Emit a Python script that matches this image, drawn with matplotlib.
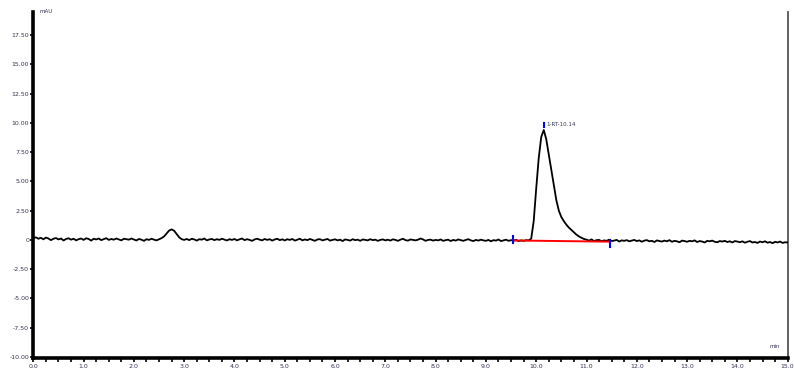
import numpy as np
import matplotlib.pyplot as plt
from matplotlib.ticker import MultipleLocator

# chromatogram signal (mAU), every 0.05 min, 0.00 .. 15.00
sig_rows = [
    [0.15, 0.22, 0.10, 0.18, 0.05, 0.20, 0.12, -0.02, 0.10, 0.16, 0.04, 0.12, -0.05, 0.08, 0.14, 0.02, 0.10, -0.04, 0.06, 0.12],
    [0.00, 0.14, 0.08, -0.06, 0.10, 0.04, 0.12, -0.02, 0.06, 0.15, 0.00, 0.08, 0.02, 0.12, 0.04, -0.04, 0.10, 0.06, 0.02, 0.12],
    [0.04, -0.05, 0.08, 0.02, -0.08, 0.06, 0.00, 0.10, 0.02, -0.04, 0.06, 0.15, 0.30, 0.55, 0.80, 0.90, 0.78, 0.50, 0.22, 0.06],
    [0.00, 0.08, -0.02, 0.10, 0.04, -0.06, 0.06, 0.02, 0.12, -0.04, 0.04, 0.08, -0.02, 0.06, 0.00, 0.10, 0.02, -0.05, 0.06, 0.00],
    [0.08, -0.04, 0.05, 0.12, -0.02, 0.06, 0.00, -0.08, 0.04, 0.10, 0.02, -0.04, 0.08, 0.00, 0.06, -0.06, 0.04, 0.10, -0.02, 0.05],
    [-0.05, 0.06, 0.00, 0.08, -0.06, 0.02, 0.10, -0.04, 0.04, -0.02, 0.08, 0.00, -0.08, 0.04, 0.06, -0.04, 0.02, 0.08, -0.06, 0.00],
    [0.05, -0.04, 0.02, -0.10, 0.04, 0.00, -0.06, 0.06, -0.02, 0.02, -0.08, 0.04, 0.00, -0.04, 0.06, -0.02, 0.02, -0.08, 0.00, 0.04],
    [-0.04, 0.02, -0.06, 0.05, 0.00, -0.08, 0.02, 0.10, -0.02, -0.06, 0.04, 0.00, -0.04, 0.02, 0.12, 0.04, -0.08, 0.00, 0.02, -0.06],
    [0.00, -0.04, 0.04, -0.08, -0.02, 0.02, -0.10, 0.00, -0.06, 0.04, -0.02, -0.08, 0.00, 0.06, -0.04, -0.10, 0.00, -0.06, 0.02, -0.04],
    [-0.08, 0.00, -0.12, -0.02, -0.06, 0.04, -0.10, -0.04, 0.02, -0.08, -0.02, -0.06, 0.00, -0.10, -0.04, -0.08, -0.02, -0.04, 0.10, 1.60],
    [4.40, 7.00, 8.80, 9.40, 8.60, 7.30, 6.00, 4.70, 3.40, 2.50, 1.95, 1.60, 1.30, 1.05, 0.85, 0.65, 0.45, 0.30, 0.18, 0.08],
    [0.02, -0.06, 0.04, -0.10, -0.02, 0.00, -0.12, -0.04, -0.08, 0.02, -0.10, -0.06, 0.00, -0.14, -0.04, -0.08, -0.02, -0.12, -0.06, 0.00],
    [-0.10, -0.04, -0.16, -0.06, -0.02, -0.12, -0.08, -0.18, -0.04, -0.10, -0.14, -0.06, -0.12, -0.02, -0.16, -0.08, -0.12, -0.20, -0.06, -0.10],
    [-0.16, -0.08, -0.12, -0.04, -0.18, -0.10, -0.14, -0.22, -0.08, -0.12, -0.06, -0.16, -0.20, -0.10, -0.14, -0.08, -0.18, -0.12, -0.22, -0.10],
    [-0.14, -0.20, -0.12, -0.24, -0.16, -0.10, -0.22, -0.18, -0.26, -0.14, -0.20, -0.12, -0.24, -0.18, -0.28, -0.16, -0.22, -0.14, -0.26, -0.20],
    [-0.22],
]
signal = np.concatenate([np.array(r) for r in sig_rows])
time = np.linspace(0, 15, len(signal))

# integration of peak 1
peak_label = "1-RT-10.14"
peak_rt = 10.15
peak_top = 9.40
base_start = [9.54, -0.05]
base_end = [11.47, -0.15]

x_ticks = np.arange(0, 16, 1)
y_ticks = [-10, -7.5, -5, -2.5, 0, 2.5, 5, 7.5, 10, 12.5, 15, 17.5]

fig = plt.figure(figsize=(7.94, 3.71), dpi=100)
ax = fig.add_axes([0.042, 0.035, 0.950, 0.933])

ax.plot(time, signal, color='black', lw=1.3, zorder=3)
ax.plot([base_start[0], base_end[0]], [base_start[1], base_end[1]], color='red', lw=1.4, zorder=4)

# blue integration marks
ax.plot([base_start[0], base_start[0]], [base_start[1] - 0.25, base_start[1] + 0.35], color='blue', lw=1.5, zorder=5)
ax.plot([base_end[0], base_end[0]], [base_end[1] - 0.45, base_end[1] + 0.15], color='blue', lw=1.5, zorder=5)
ax.plot([peak_rt, peak_rt], [peak_top + 0.25, peak_top + 0.6], color='blue', lw=1.5, zorder=5)
ax.text(peak_rt + 0.06, peak_top + 0.45, peak_label, fontsize=4, color='#333355', va='center')

ax.set_xlim(0, 15)
ax.set_ylim(-10.1, 19.5)
ax.set_xticks(x_ticks)
ax.set_xticklabels(["%.1f" % v for v in x_ticks])
ax.xaxis.set_minor_locator(MultipleLocator(0.25))
ax.set_yticks(y_ticks)
ax.set_yticklabels(["0" if v == 0 else "%.2f" % v for v in y_ticks])

ax.tick_params(axis='both', which='both', direction='out', labelsize=4.5, colors='black',
               labelcolor='#333355', width=1.2)
ax.tick_params(axis='x', which='major', length=3, pad=1)
ax.tick_params(axis='x', which='minor', length=3)
ax.tick_params(axis='y', which='major', length=2, pad=1)

ax.spines['top'].set_visible(False)
ax.spines['left'].set_linewidth(2.6)
ax.spines['bottom'].set_linewidth(2.6)
ax.spines['right'].set_linewidth(1.2)
ax.spines['right'].set_color('#444444')

ax.text(0.008, 1.0, "mAU", transform=ax.transAxes, fontsize=4, color='#333355', va='center')
ax.text(0.99, 0.03, "min", transform=ax.transAxes, fontsize=4, color='#333355', ha='right')

fig.savefig("out.png", dpi=100)
